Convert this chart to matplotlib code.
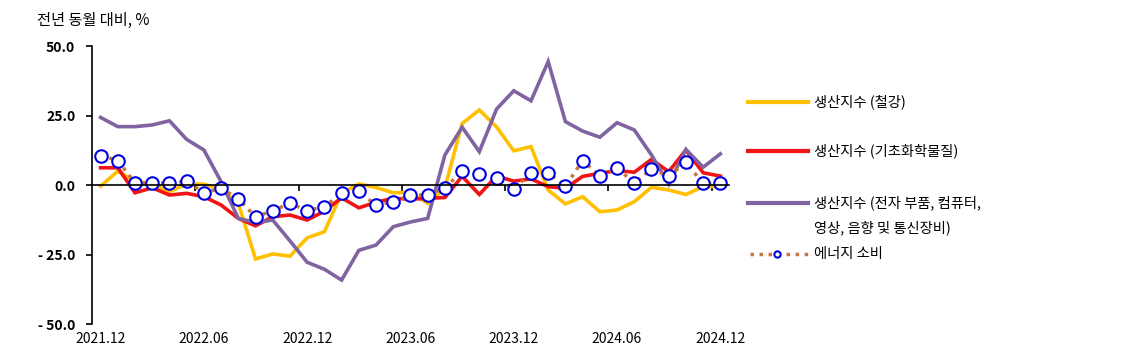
import matplotlib
matplotlib.use('Agg')
import matplotlib.pyplot as plt
from matplotlib.lines import Line2D
from matplotlib.ticker import FuncFormatter
import numpy as np

plt.rcParams['font.family'] = ['Noto Sans CJK KR', 'DejaVu Sans']

# 월별 전년 동월 대비 증감률 (2021.12 ~ 2024.12)
tick_labels = ['2021.12', '2022.06', '2022.12', '2023.06', '2023.12', '2024.06', '2024.12']

steel = [-0.4, 5.0, 1.2, 0.6, -2.4, 0.4, 0.3, -1.5, -6.6, -26.6, -24.8, -25.6, -19.0,
         -16.8, -3.0, 0.4, -0.9, -2.8, -2.6, -6.6, -1.0, 22.1, 27.0, 20.9, 12.3,
         13.8, -1.8, -6.8, -4.2, -9.6, -9.0, -6.0, -0.8, -1.8, -3.4, -0.6, -0.5]
chem = [6.2, 6.2, -2.8, -1.0, -3.6, -3.0, -4.2, -7.2, -12.0, -14.7, -11.4, -10.8, -12.6,
        -9.4, -4.6, -8.2, -6.2, -4.8, -5.1, -4.8, -4.5, 3.1, -3.4, 3.2, 1.4,
        2.2, -0.6, -1.2, 3.1, 4.2, 5.2, 4.6, 9.2, 4.8, 12.6, 4.4, 3.2]
elec = [24.3, 21.0, 21.0, 21.6, 23.1, 16.4, 12.6, 1.2, -12.0, -13.5, -12.6, -20.1, -27.8,
        -30.3, -34.2, -23.5, -21.6, -15.0, -13.3, -12.0, 10.8, 20.8, 12.0, 27.3, 33.9,
        30.3, 44.4, 22.8, 19.4, 17.2, 22.4, 19.8, 10.8, 0.3, 12.8, 6.4, 11.2]
energy = [10.6, 8.8, 0.7, 0.7, 0.7, 1.4, -2.8, -1.2, -4.9, -11.5, -9.2, -6.6, -9.2,
          -7.8, -3.0, -2.3, -7.3, -6.0, -3.6, -3.6, -1.1, 5.0, 3.9, 2.7, -1.5,
          4.4, 4.4, -0.4, 8.8, 3.2, 6.2, 0.6, 5.8, 3.2, 8.1, 0.6, 0.6]

c_steel = '#ffc000'
c_chem = '#f01414'
c_elec = '#8064a2'
c_energy = '#c8763c'
dots = (0, (1, 1.6))

x = np.arange(len(steel))

fig = plt.figure(figsize=(11.3, 3.55), dpi=100)
ax = fig.add_axes([0.0814, 0.0873, 0.5637, 0.7831])

ax.plot(x, steel, color=c_steel, lw=2.6, solid_joinstyle='miter')
ax.plot(x, chem, color=c_chem, lw=2.6, solid_joinstyle='miter')
ax.plot(x, elec, color=c_elec, lw=2.6, solid_joinstyle='miter')
ax.plot(x, energy, color=c_energy, lw=2.5, linestyle=dots)
ax.plot(x, energy, linestyle='none', marker='o', markersize=9,
        markerfacecolor='white', markeredgecolor='#0000e0', markeredgewidth=1.5)

ax.set_xlim(-0.5, len(x) - 0.5)
ax.set_ylim(-50, 50)

# y축
ax.set_yticks([50, 25, 0, -25, -50])
ax.yaxis.set_major_formatter(FuncFormatter(
    lambda v, p: f'{v:.1f}' if v >= 0 else f'- {abs(v):.1f}'))
ax.tick_params(axis='y', direction='out', length=4, width=1.2, pad=8, labelsize=10)
for t in ax.get_yticklabels():
    t.set_fontweight('bold')

# x축: 0 위치에 축선, 6개월 단위 눈금
ax.spines['bottom'].set_position(('data', 0))
ax.spines['top'].set_visible(False)
ax.spines['right'].set_visible(False)
ax.spines['left'].set_linewidth(1.2)
ax.spines['bottom'].set_linewidth(1.2)
ax.set_xticks(np.arange(5.5, len(x), 6))
ax.set_xticklabels([])
ax.tick_params(axis='x', direction='out', length=4, width=1.2)

for i, lab in enumerate(tick_labels):
    ax.text(i * 6, -0.055, lab, transform=ax.get_xaxis_transform(),
            ha='center', va='center', fontsize=10)

fig.text(37 / 1130, 1 - 20 / 355, '전년 동월 대비, %', fontsize=11,
         ha='left', va='center')

# 범례
def fx(px):
    return px / 1130

def fy(py):
    return 1 - py / 355

legend_items = [
    (c_steel, 102, ['생산지수 (철강)']),
    (c_chem, 151, ['생산지수 (기초화학물질)']),
    (c_elec, 203, ['생산지수 (전자 부품, 컴퓨터,', '영상, 음향 및 통신장비)']),
]
for col, py, lines in legend_items:
    fig.add_artist(Line2D([fx(748), fx(808)], [fy(py), fy(py)], color=col, lw=3,
                          transform=fig.transFigure))
    for k, ln in enumerate(lines):
        fig.text(fx(814), fy(py + k * 24.5), ln, fontsize=10.3, ha='left', va='center')

fig.add_artist(Line2D([fx(750), fx(808)], [fy(254), fy(254)], color=c_energy, lw=2.5,
                      linestyle=dots, transform=fig.transFigure))
fig.add_artist(Line2D([fx(777)], [fy(254)], marker='o', markersize=4.5,
                      markerfacecolor='white', markeredgecolor='#0000e0',
                      markeredgewidth=1.5, transform=fig.transFigure))
fig.text(fx(814), fy(254), '에너지 소비', fontsize=10.3, ha='left', va='center')

fig.savefig('out.png', dpi=100)
